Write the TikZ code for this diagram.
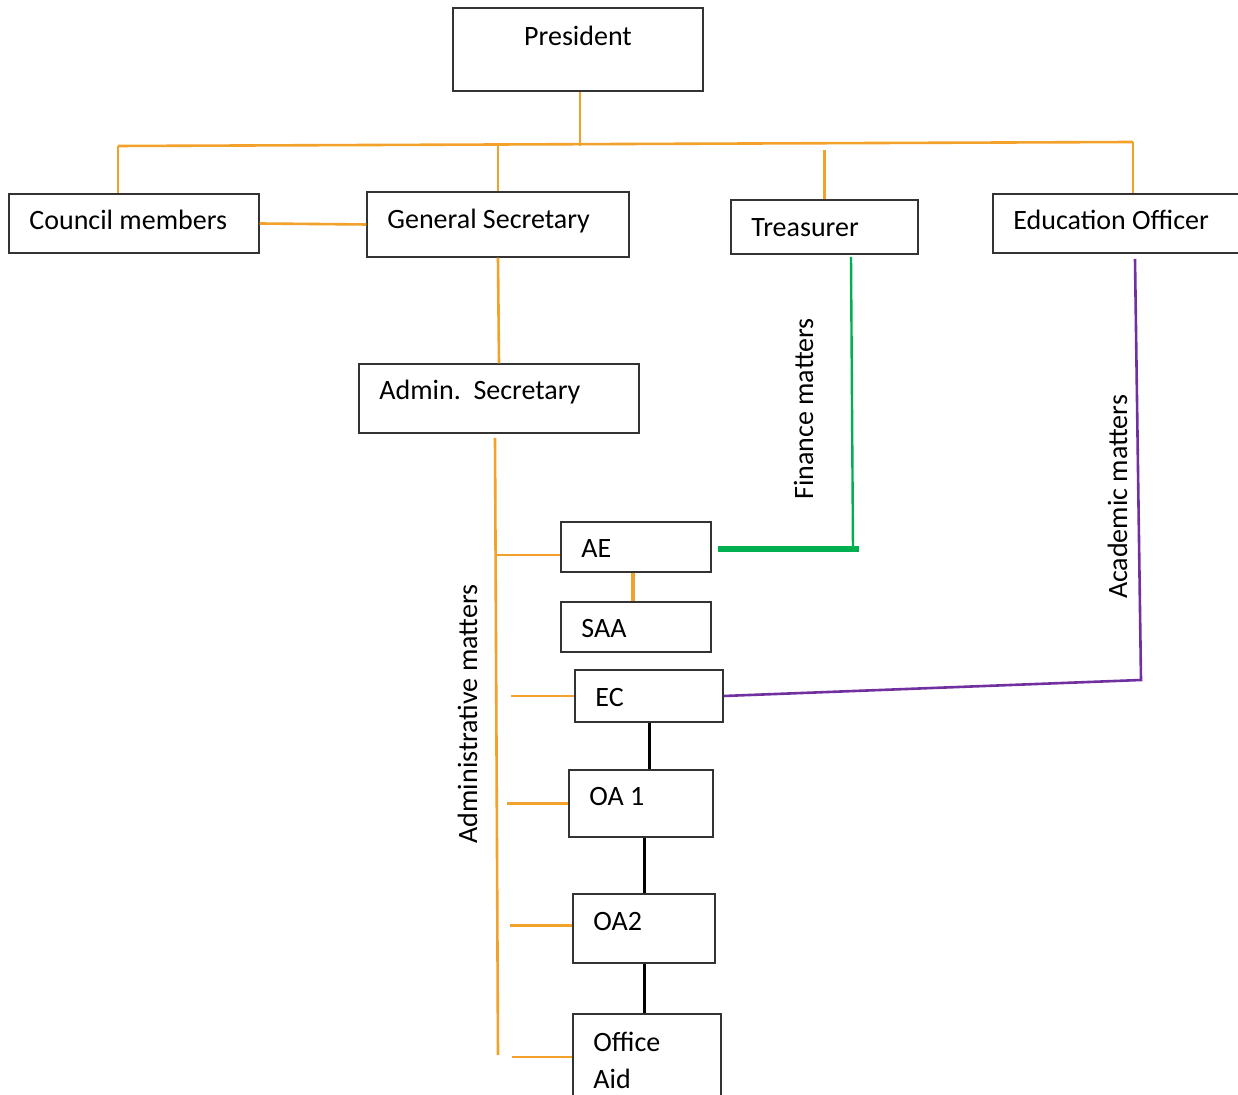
\documentclass[tikz,border=0pt]{standalone}
\usepackage{fontspec}
\setmainfont{Carlito}
\usepackage{tikz}
\usetikzlibrary{calc, fit}
\usetikzlibrary{positioning}

\definecolor{orgorange}{RGB}{242,161,42}
\definecolor{fingreen}{RGB}{0,176,80}
\definecolor{acpurple}{RGB}{112,48,160}

\begin{document}
\begin{tikzpicture}[x=0.5pt, y=-0.5pt,
        box/.style={draw=black!80, line width=0.7pt, inner sep=0pt},
        txt/.style={inner sep=0pt, anchor=base west, font=\fontsize{14pt}{18.5pt}\selectfont},
        side/.style={inner sep=0pt, anchor=base, rotate=90, font=\fontsize{14pt}{17pt}\selectfont},
        adm/.style={draw=orgorange, line width=1.3pt},
        chain/.style={draw=black, line width=1.5pt}
        ]
    \useasboundingbox (0,0) rectangle (1238,1095);

    % boxes, by their corners
    \node[box, fit={(453,8) (703,91)}] (pres) {};
    \node[box, fit={(9,194) (259,253)}] (council) {};
    \node[box, fit={(367,192) (629,257)}] (gensec) {};
    \node[box, fit={(731,200) (918,254)}] (treas) {};
    \node[box, fit={(993,194) (1250,253)}] (edu) {};
    \node[box, fit={(359,364) (639,433)}] (admin) {};
    \node[box, fit={(561,522) (711,572)}] (ae) {};
    \node[box, fit={(561,602) (711,652)}] (saa) {};
    \node[box, fit={(575,670) (723,722)}] (ec) {};
    \node[box, fit={(569,770) (713,837)}] (oa1) {};
    \node[box, fit={(573,894) (715,963)}] (oa2) {};
    \node[box, fit={(573,1014) (721,1100)}] (aid) {};

    % texts
    \node[txt, anchor=base] (presT) at (578,46) {President};
    \node[txt] (councilT) at (29,230) {Council members};
    \node[txt] (gensecT) at (387,229) {General Secretary};
    \node[txt] (treasT) at (751,237) {Treasurer};
    \node[txt] (eduT) at (1013,230) {Education Officer};
    \node[txt] (adminT) at (379,400) {Admin.\ \ Secretary};
    \node[txt] (aeT) at (581,558) {AE};
    \node[txt] (saaT) at (581,638) {SAA};
    \node[txt] (ecT) at (595,707) {EC};
    \node[txt] (oa1T) at (589,806) {OA 1};
    \node[txt] (oa2T) at (593,931) {OA2};
    \node[txt, align=left] (aidT) at (593,1088) {Office\\Aid};

    \node[side] (finT) at (813,409) {Finance matters};
    \node[side] (acT) at (1127,497) {Academic matters};
    \node[side] (admT) at (477,714) {Administrative matters};

    % free ends of the lines
    \coordinate (busL) at (118,146);
    \coordinate (busR) at (1133,142);
    \coordinate (admTop) at (495,438);
    \coordinate (admBot) at (498,1055);
    \coordinate (finTop) at (851,257);
    \coordinate (finC) at (853,549);
    \coordinate (finR) at (859,549);
    \coordinate (acTop) at (1135,259);
    \coordinate (acC) at (1141,680);

    % top of the chart
    \draw[adm] (busL) -- (busR);
    \draw[adm] ([xshift=1pt]pres.south) -- ([xshift=1pt]pres.south |- busL);
    \draw[adm] (busL) -- (busL |- council.north);
    \draw[adm] (gensec.north) -- ++(0,-48);
    \draw[adm] (treas.north) -- ++(0,-49);
    \draw[adm] (busR) -- (busR |- edu.north);
    \draw[adm] (council.east) -- (gensec.west);
    \draw[adm] (gensec.south) -- (admin.north);

    % administrative line
    \draw[adm] (admTop) -- (admBot);
    \draw[adm] ([yshift=-4pt]ae.west) -- ([yshift=-4pt]ae.west -| admTop);
    \draw[adm, line width=1.6pt] ([xshift=-1.5pt]ae.south) -- ([xshift=-1.5pt]ae.south |- saa.north);
    \draw[adm] (ec.west) -- ++(-63,0);
    \draw[adm] (oa1.west) -- ++(-61,0);
    \draw[adm] ([yshift=1.5pt]oa2.west) -- ++(-62,0);
    \draw[adm] (aid.west) -- ++(-60,0);

    \draw[chain] (ec.south) -- (ec.south |- oa1.north);
    \draw[chain] (oa2.north) -- (oa2.north |- oa1.south);
    \draw[chain] (oa2.south) -- (oa2.south |- aid.north);

    % finance and academic lines
    \draw[fingreen, line width=1.2pt] (finTop) -- (finC);
    \draw[fingreen, line width=2.6pt] ([xshift=3pt, yshift=-1pt]ae.east) -- (finR);
    \draw[acpurple, line width=1.3pt] (acTop) -- (acC) -- (ec.east);
\end{tikzpicture}
\end{document}
